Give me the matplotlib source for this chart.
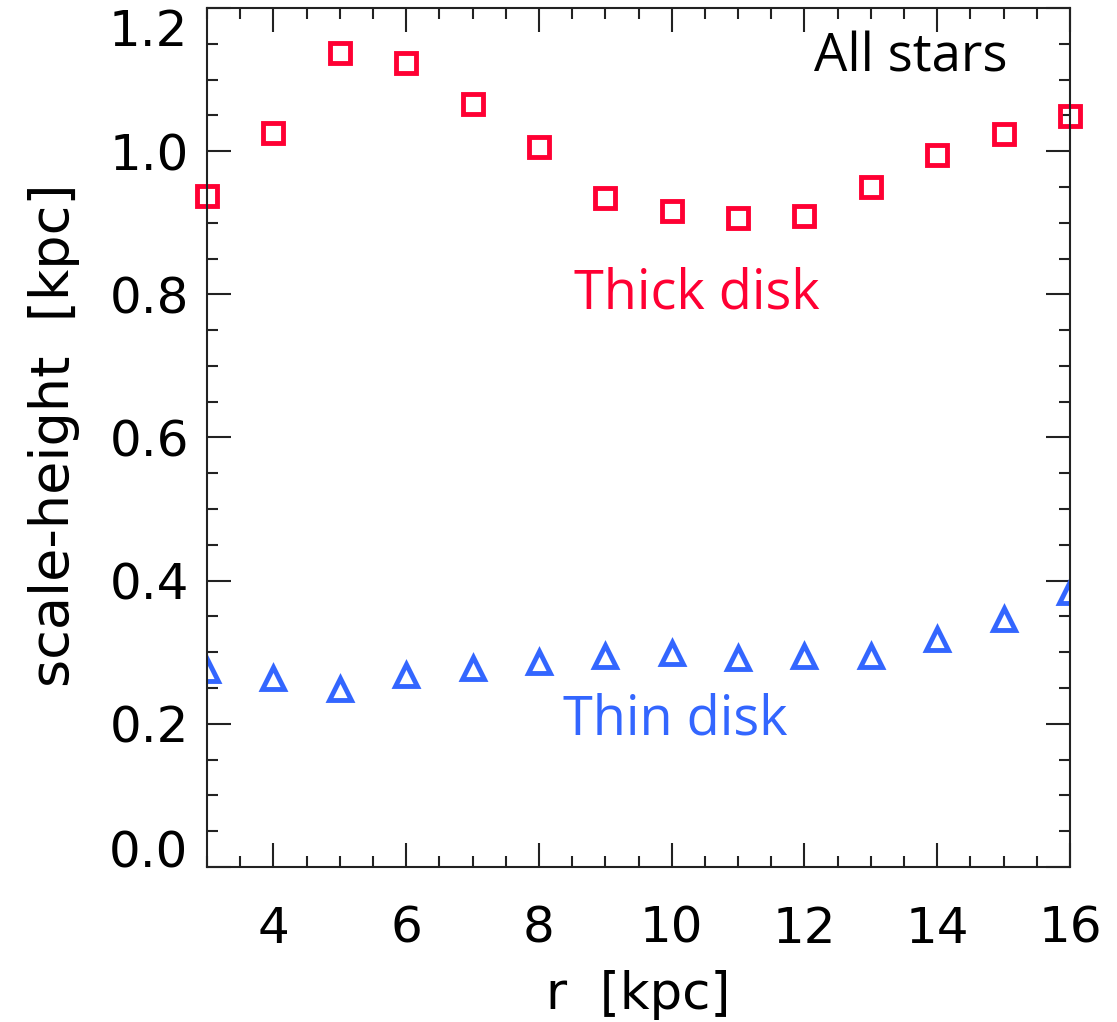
import matplotlib
matplotlib.use("Agg")
import matplotlib.pyplot as plt
from matplotlib.ticker import MultipleLocator, FuncFormatter

r = [3, 4, 5, 6, 7, 8, 9, 10, 11, 12, 13, 14, 15, 16]
thick = [0.937, 1.025, 1.137, 1.123, 1.066, 1.006, 0.934, 0.916, 0.906, 0.909, 0.950, 0.994, 1.024, 1.049]
thin = [0.275, 0.264, 0.249, 0.268, 0.278, 0.286, 0.295, 0.299, 0.292, 0.295, 0.295, 0.318, 0.346, 0.384]

red = "#FF0033"
blue = "#3366FF"
W, H = 1117, 1022
YMIN, YMAX = 0.0, 1.2

fig = plt.figure(figsize=(W / 100, H / 100), dpi=100)
ax = fig.add_axes([207 / W, 1 - 867 / H, (1070 - 207) / W, (867 - 8) / H])

ax.plot(r, thick, linestyle="none", marker="s", markersize=15, markerfacecolor="none",
        markeredgecolor=red, markeredgewidth=3.5, clip_on=False)
ax.plot(r, thin, linestyle="none", marker="^", markersize=16, markerfacecolor="none",
        markeredgecolor=blue, markeredgewidth=3.5, clip_on=True)

ax.set_xlim(3, 16)
ax.set_ylim(YMIN, YMAX)
ax.xaxis.set_major_locator(MultipleLocator(2))
ax.xaxis.set_minor_locator(MultipleLocator(0.5))
ax.yaxis.set_major_locator(MultipleLocator(0.2))
ax.yaxis.set_minor_locator(MultipleLocator(0.05))


def yfmt(v, p):
    if abs(v - YMIN) < 1e-6 or abs(v - YMAX) < 1e-6:
        return ""
    return f"{v:.1f}"


ax.yaxis.set_major_formatter(FuncFormatter(yfmt))
ax.tick_params(which="both", direction="in", top=True, right=True, width=1.5, colors="#222222",
               labelcolor="black", labelsize=36)
ax.tick_params(which="major", length=17)
ax.tick_params(which="minor", length=8)
ax.tick_params(axis="x", which="major", pad=27)
ax.tick_params(axis="y", which="major", pad=13)
for s in ax.spines.values():
    s.set_linewidth(1.5)
    s.set_color("#222222")

# end labels of the y axis, kept inside the figure like the reference
ytr = ax.get_yaxis_transform()
ax.text(-0.022, YMIN, f"{YMIN:.1f}", transform=ytr, fontsize=36, ha="right", va="baseline")
ax.text(-0.022, YMAX, f"{YMAX:.1f}", transform=ytr, fontsize=36, ha="right", va="top")

fig.text(638 / W, 1 - 995 / H, "r  [kpc]", fontsize=37, ha="center", va="center")
fig.text(54 / W, 1 - 435 / H, "scale-height  [kpc]", fontsize=39, ha="center", va="center",
         rotation=90)

ax.text(10.38, 0.80, "Thick disk", color=red, fontsize=39, family="Open Sans",
        ha="center", va="center")
ax.text(10.05, 0.205, "Thin disk", color=blue, fontsize=39, family="Open Sans",
        ha="center", va="center")
ax.text(12.15, 1.13, "All stars", color="black", fontsize=38, family="Open Sans",
        ha="left", va="center")

fig.savefig("out.png", dpi=100)
